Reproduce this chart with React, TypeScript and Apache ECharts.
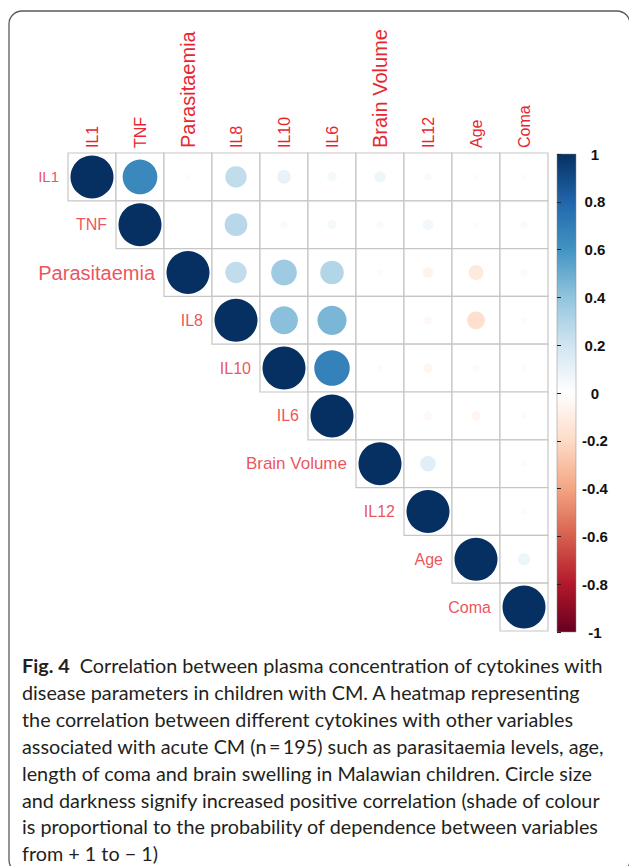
import React, { useEffect, useRef } from "react";
import * as echarts from "echarts";

const vars = ["IL1", "TNF", "Parasitaemia", "IL8", "IL10", "IL6", "Brain Volume", "IL12", "Age", "Coma"];

// upper-triangle correlations, each row starts at the diagonal
const rowIL1 = [1, 0.65, 0.02, 0.25, 0.1, 0.05, 0.07, 0.03, 0.02, 0.02];
const rowTNF = [1, 0.0, 0.28, 0.03, 0.05, 0.03, 0.06, 0.02, 0.03];
const rowParasitaemia = [1, 0.25, 0.36, 0.3, 0.02, -0.06, -0.12, -0.03];
const rowIL8 = [1, 0.42, 0.46, 0.0, -0.04, -0.17, -0.02];
const rowIL10 = [1, 0.68, 0.02, -0.05, -0.03, -0.02];
const rowIL6 = [1, 0.01, -0.04, -0.05, 0.02];
const rowBrainVolume = [1, 0.13, 0.0, 0.02];
const rowIL12 = [1, 0.0, 0.02];
const rowAge = [1, 0.08];
const rowComa = [1];
const rows = [rowIL1, rowTNF, rowParasitaemia, rowIL8, rowIL10, rowIL6, rowBrainVolume, rowIL12, rowAge, rowComa];

const colLabelSizes = [16, 16, 20, 16, 16, 16, 20, 16, 16, 16];
const rowLabelSizes = [15, 16, 20, 16, 16, 16, 17, 16, 16, 16];

const rdBu = ["#67001F", "#B2182B", "#D6604D", "#F4A582", "#FDDBC7", "#FFFFFF", "#D1E5F0", "#92C5DE", "#4393C3", "#2166AC", "#053061"];

const captionLines = [
  "{b|Fig. 4}  Correlation between plasma concentration of cytokines with",
  "disease parameters in children with CM. A heatmap representing",
  "the correlation between different cytokines with other variables",
  "associated with acute CM (n\u2009=\u2009195) such as parasitaemia levels, age,",
  "length of coma and brain swelling in Malawian children. Circle size",
  "and darkness signify increased positive correlation (shade of colour",
  "is proportional to the probability of dependence between variables",
  "from + 1 to \u2212 1)",
];

const RED = "#e8262f";
const LABEL_FONT = "Liberation Sans";
const CAP_SIZE = 19.8;

export default function App() {
  const ref = useRef<HTMLDivElement>(null);
  useEffect(() => {
    if (!ref.current) return;
    const chart = echarts.init(ref.current, undefined, { renderer: "svg" });

    const cells: number[][] = [];
    rows.forEach((row, i) => {
      row.forEach((v, k) => {
        cells.push([i + k, i, v]);
      });
    });
    const diag = vars.map((v, i) => ({
      value: [i, i],
      label: { fontSize: rowLabelSizes[i] },
    }));

    const n = rdBu.length;
    const gradStops = rdBu.map((_, i) => ({ offset: i / (n - 1), color: rdBu[n - 1 - i] }));

    const graphics: any[] = [
      {
        type: "rect",
        shape: { x: 9, y: 11, width: 621, height: 862, r: 13 },
        style: { fill: "none", stroke: "#5a5a5a", lineWidth: 1.3 },
        silent: true,
      },
      {
        type: "rect",
        shape: { x: 557, y: 154, width: 19, height: 478 },
        style: {
          fill: new echarts.graphic.LinearGradient(0, 0, 0, 1, gradStops),
          stroke: "#888",
          lineWidth: 0.5,
        },
        silent: true,
      },
    ];
    captionLines.forEach((t, i) => {
      graphics.push({
        type: "text",
        x: 22,
        y: 665 + i * 26.9,
        style: {
          text: t,
          fontFamily: "Lato",
          fontSize: CAP_SIZE,
          fill: "#231f20",
          verticalAlign: "middle",
          rich: {
            b: { fontFamily: "Lato", fontSize: CAP_SIZE, fontWeight: "bold", fill: "#231f20" },
          },
        },
        silent: true,
      });
    });

    chart.setOption({
      animation: false,
      backgroundColor: "#ffffff",
      grid: [
        { left: 68, top: 153, width: 480, height: 478 },
        { left: 557, top: 154, width: 19, height: 478 },
      ],
      xAxis: [
        {
          type: "category",
          gridIndex: 0,
          position: "top",
          data: vars.map((v, i) => ({ value: v, textStyle: { fontSize: colLabelSizes[i] } })),
          axisLine: { show: false },
          axisTick: { show: false },
          splitLine: { show: false },
          axisLabel: {
            interval: 0,
            rotate: -90,
            margin: 5,
            color: RED,
            fontFamily: LABEL_FONT,
          },
        },
        {
          type: "value",
          gridIndex: 1,
          show: false,
        },
      ],
      yAxis: [
        {
          type: "category",
          gridIndex: 0,
          inverse: true,
          data: vars,
          axisLine: { show: false },
          axisTick: { show: false },
          axisLabel: { show: false },
          splitLine: { show: false },
        },
        {
          type: "value",
          gridIndex: 1,
          position: "right",
          min: -1,
          max: 1,
          interval: 0.2,
          axisLine: { show: false },
          splitLine: { show: false },
          axisTick: { show: true, length: 4, lineStyle: { color: "#222", width: 1 } },
          axisLabel: {
            margin: 19,
            align: "center",
            color: "#111",
            fontFamily: LABEL_FONT,
            fontWeight: "bold",
            fontSize: 15,
            formatter: (v: number) => String(+v.toFixed(1)),
          },
        },
      ],
      visualMap: {
        show: false,
        type: "continuous",
        min: -1,
        max: 1,
        dimension: 2,
        seriesIndex: 1,
        inRange: { color: rdBu },
      },
      series: [
        {
          type: "custom",
          xAxisIndex: 0,
          yAxisIndex: 0,
          silent: true,
          data: cells,
          renderItem: (params: any, api: any) => {
            const c = api.coord([api.value(0), api.value(1)]);
            const s = api.size([1, 1]);
            return {
              type: "rect",
              shape: { x: c[0] - s[0] / 2, y: c[1] - s[1] / 2, width: s[0], height: s[1] },
              style: { fill: "#ffffff", stroke: "#c6c6c6", lineWidth: 1.2 },
            };
          },
        },
        {
          type: "scatter",
          xAxisIndex: 0,
          yAxisIndex: 0,
          silent: true,
          data: cells,
          symbol: "circle",
          symbolSize: (val: number[]) => 43 * Math.sqrt(Math.abs(val[2])),
          itemStyle: { opacity: 1 },
        },
        {
          type: "scatter",
          xAxisIndex: 0,
          yAxisIndex: 0,
          silent: true,
          data: diag,
          symbolSize: 48,
          itemStyle: { color: "rgba(0,0,0,0)" },
          label: {
            show: true,
            position: "left",
            distance: 9,
            color: RED,
            fontFamily: LABEL_FONT,
            formatter: (p: any) => vars[p.value[1]],
          },
        },
      ],
      graphic: graphics,
    });
    return () => chart.dispose();
  }, []);
  return (
    <div
      ref={ref}
      style={{ position: "fixed", left: 0, top: 0, width: 629, height: 866, background: "#fff" }}
    />
  );
}
